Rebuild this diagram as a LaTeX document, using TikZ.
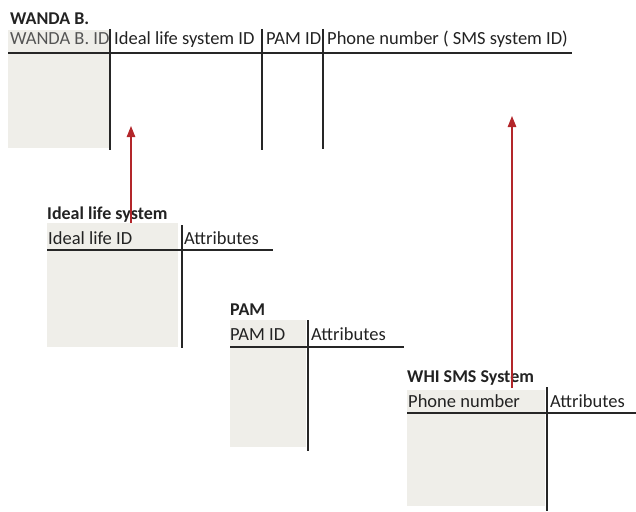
\documentclass[tikz,border=0pt]{standalone}
\usepackage{fontspec}
\setmainfont{Carlito}
\usepackage{xcolor}
\definecolor{CellGrey}{HTML}{EFEEE9}
\definecolor{LinkRed}{HTML}{B3262A}
\definecolor{HeadGrey}{HTML}{555555}
\definecolor{InkBlack}{HTML}{222222}
\usepackage{tikz}
\usetikzlibrary{arrows.meta, positioning, calc}
\tikzstyle{title} = [anchor=base west, inner sep=0pt, text=InkBlack, font=\bfseries\fontsize{18}{21}\selectfont]
\tikzstyle{head} = [anchor=base west, inner sep=0pt, text=InkBlack, font=\fontsize{18.5}{21}\selectfont]
\tikzstyle{keycol} = [fill=CellGrey, draw=none]
\tikzstyle{rule} = [line width=1.6pt, color=black!85]
\tikzstyle{arrow} = [line width=1.1pt, color=LinkRed, -{Triangle[width=8.5pt,length=11pt]}]

\begin{document}
\begin{tikzpicture}[x=1pt, y=-1pt]
        \useasboundingbox (0,0) rectangle (636,511);

        % WANDA B. table
        \fill [keycol] (8,30) rectangle (110,148);
        \node [title] (wanda) at (10,25) {WANDA B.};
        \node [head, text=HeadGrey] (wid) at (10,45) {WANDA B. ID};
        \node [head] (wlife) at (114,45) {Ideal life system ID};
        \node [head] (wpam) at (266,45) {PAM ID};
        \node [head] (wphone) at (327,45) {Phone number ( SMS system ID)};
        \draw [rule] (8,53) -- (572,53);
        \draw [rule] (110,29) -- (110,150);
        \draw [rule] (262,29) -- (262,150);
        \draw [rule] (323,29) -- (323,149);

        % Ideal life system table
        \fill [keycol] (47,223) rectangle (178,347);
        \node [title] (life) at (47,219) {Ideal life system};
        \node [head] (lifeid) at (48,244) {Ideal life ID};
        \node [head] (lifeattr) at (184,244) {Attributes};
        \draw [rule] (47,250) -- (273,250);
        \draw [rule] (182,225) -- (182,348);

        % PAM table
        \fill [keycol] (230,320) rectangle (306,447);
        \node [title] (pam) at (230,315) {PAM};
        \node [head] (pamid) at (230,340) {PAM ID};
        \node [head] (pamattr) at (311,340) {Attributes};
        \draw [rule] (230,347) -- (404,347);
        \draw [rule] (308,320) -- (308,451);

        % WHI SMS System table
        \fill [keycol] (407,390) rectangle (545,506);
        \node [title] (sms) at (407,382) {WHI SMS System};
        \node [head] (smsid) at (408,407) {Phone number};
        \node [head] (smsattr) at (550,407) {Attributes};
        \draw [rule] (407,413) -- (636,413);
        \draw [rule] (547,387) -- (547,511);

        % Connect tables
        \coordinate (lifeout) at (131,223);
        \coordinate (lifein) at (131,126);
        \coordinate (smsout) at (512,388);
        \coordinate (smsin) at (512,116);
        \draw [arrow] (lifeout) -- (lifein);
        \draw [arrow] (smsout) -- (smsin);
    \end{tikzpicture}
\end{document}
